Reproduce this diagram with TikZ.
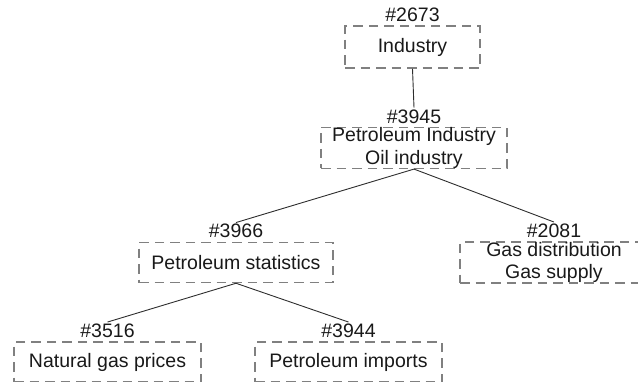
\documentclass[tikz,border=0pt]{standalone}
\usepackage{fontspec}
\setmainfont{Liberation Sans}
\usetikzlibrary{positioning}
\definecolor{treeGray}{RGB}{128,128,128}
\definecolor{treeEdge}{RGB}{45,45,45}
\definecolor{treeText}{RGB}{25,25,25}

\begin{document}
\begin{tikzpicture}[x=1pt, y=-1pt,
    topic/.style={rectangle, draw=treeGray, dash pattern=on 9.5pt off 6pt,
                  line width=1.5pt, inner sep=0pt, align=center, text=treeText,
                  minimum height=40pt, font=\fontsize{19.5}{22.5}\selectfont},
    num/.style={inner sep=1.5pt, text=treeText, font=\fontsize{19.5}{22.5}\selectfont},
    link/.style={treeEdge, line width=0.9pt}
  ]
  \useasboundingbox (0,0) rectangle (638,381);
  \clip (0,0) rectangle (638,381);

  % Root
  \node[topic, minimum width=135pt, minimum height=42pt] (ind) at (412.5,47) {Industry};
  \node[num, above=2pt of ind] (ind-n) {\#2673};

  % Second level
  \node[topic, minimum width=186pt] (petind) at (414,148) {Petroleum Industry\\Oil industry};
  \node[num, above=2pt of petind] (petind-n) {\#3945};

  % Third level
  \node[topic, minimum width=194pt] (petstat) at (236,262.5) {Petroleum statistics};
  \node[num, above=2pt of petstat] (petstat-n) {\#3966};
  \node[topic, minimum width=188pt, minimum height=41pt] (gasdist) at (554,262.5) {Gas distribution\\Gas supply};
  \node[num, above=2pt of gasdist] (gasdist-n) {\#2081};

  % Leaves
  \node[topic, minimum width=187pt] (natgas) at (107.5,362) {Natural gas prices};
  \node[num, above=2pt of natgas] (natgas-n) {\#3516};
  \node[topic, minimum width=187pt] (petimp) at (348.5,362) {Petroleum imports};
  \node[num, above=2pt of petimp] (petimp-n) {\#3944};

  % Links
  \draw[link] (ind.south) -- (petind-n.north);
  \draw[link] (petind.south) -- (petstat-n.north);
  \draw[link] (petind.south) -- (gasdist-n.north);
  \draw[link] (petstat.south) -- (natgas-n.north);
  \draw[link] (petstat.south) -- (petimp-n.north);
\end{tikzpicture}
\end{document}
